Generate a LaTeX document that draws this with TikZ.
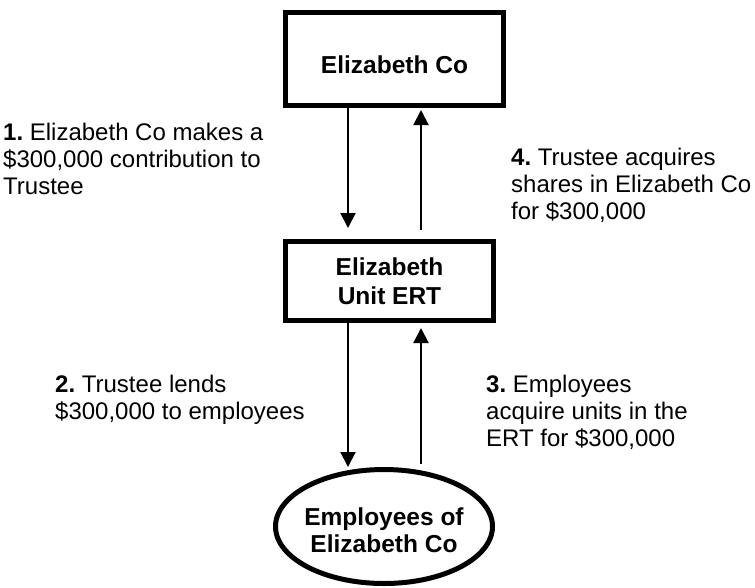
\documentclass[tikz,border=0pt]{standalone}
\usepackage{fontspec}
\setmainfont{Liberation Sans}
\usetikzlibrary{arrows.meta,shapes.geometric}
\begin{document}
\frenchspacing
\begin{tikzpicture}[x=1pt,y=-1pt,
  txt/.style={font=\fontsize{24}{27}\selectfont, align=left, inner sep=0pt, anchor=base west},
  boxtxt/.style={font=\fontsize{24.5}{28.5}\selectfont\bfseries, align=center},
  box/.style={draw, line width=5pt, rectangle, inner sep=0pt},
  arr/.style={line width=2pt, -{Triangle[width=15pt,length=15pt]}}]
\useasboundingbox (0,0) rectangle (755,587);
\node[box, boxtxt, minimum width=218pt, minimum height=93pt, text height=28pt, text depth=0pt] (co) at (394.5,59) {Elizabeth Co};
\node[box, boxtxt, minimum width=208pt, minimum height=79pt] (ert) at (389.5,281) {Elizabeth\\Unit ERT};
\node[draw, ellipse, line width=5pt, boxtxt, font=\fontsize{24.5}{26.5}\selectfont\bfseries, minimum width=217pt, minimum height=114pt, inner xsep=-12pt, inner ysep=0pt, text height=51pt, text depth=0pt] (emp) at (384,526.5) {Employees of\\Elizabeth Co};
\coordinate (xl) at (348,0);
\coordinate (xr) at (421,0);
\draw[arr, shorten >=11pt] (co.south -| xl) -- (ert.north -| xl);
\draw[arr, shorten <=9pt, shorten >=2pt] (ert.north -| xr) -- (co.south -| xr);
\draw[arr] (ert.south -| xl) -- (emp.north -| xl);
\draw[arr, shorten <=3pt, shorten >=5pt] (emp.north -| xr) -- (ert.south -| xr);
\node[txt] (l1) at (3,194) {\textbf{1.} Elizabeth Co makes a\\\$300,000 contribution to\\Trustee};
\node[txt] (l4) at (511,219) {\textbf{4.} Trustee acquires\\shares in Elizabeth Co\\for \$300,000};
\node[txt] (l2) at (55,419) {\textbf{2.} Trustee lends\\\$300,000 to employees};
\node[txt] (l3) at (486,446) {\textbf{3.} Employees\\acquire units in the\\ERT for \$300,000};
\end{tikzpicture}
\end{document}
